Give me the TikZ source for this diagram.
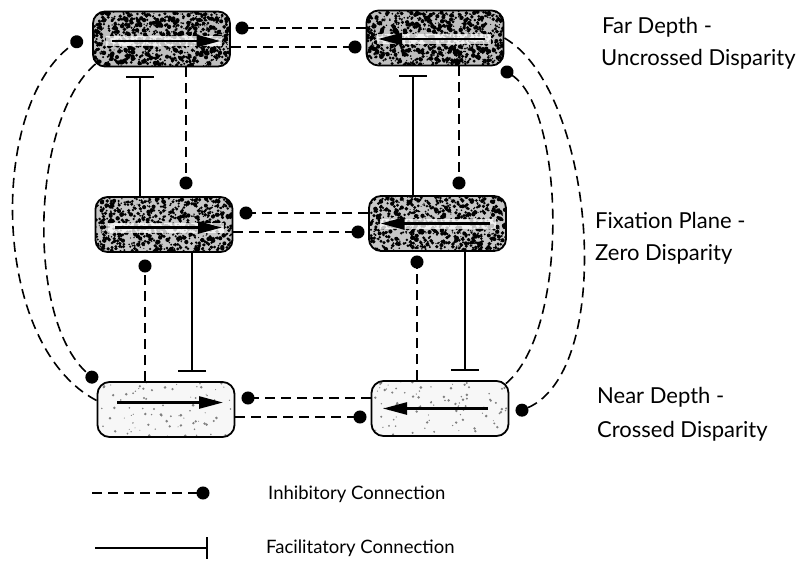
\documentclass[tikz,border=0pt]{standalone}
\usepackage{fontspec}
\setmainfont{Lato}
\usetikzlibrary{arrows.meta,calc}

\begin{document}
\begin{tikzpicture}[x=1pt,y=-1pt,
  cell/.style={draw,line width=1.8pt,rounded corners=12pt,
    minimum width=137pt,minimum height=55pt,inner sep=0pt},
  grain/.style n args={4}{fill=#1,path picture={
    \foreach \k in {1,...,#2}{
      \pgfmathsetmacro\px{rand*68}
      \pgfmathsetmacro\py{rand*27}
      \pgfmathsetmacro\pr{0.5+#4*rnd}
      \fill[#3] ($(path picture bounding box.center)+(\px,\py)$) circle[radius=\pr pt];
    }}},
  band/.style={fill=white,opacity=0.75},
  dir/.style={line width=2.6pt,-{Triangle[length=24pt,width=12pt]}},
  inh/.style={dash pattern=on 10pt off 6pt,line width=1.6pt,-{Circle[length=13pt]}},
  fac/.style={line width=1.4pt,-{Bar[width=28pt,line width=2.2pt]}},
  lvl/.style={anchor=base west,font=\fontsize{22}{26}\selectfont,inner sep=0pt},
  key/.style={anchor=west,font=\fontsize{18.5}{22}\selectfont,inner sep=0pt}
]
\useasboundingbox (0,0) rectangle (803,562);
\pgfmathsetseed{11}

% disparity-tuned cells: far (top), fixation (middle), near (bottom)
\node[cell,grain={black!25}{900}{black}{1.8}] (TL) at (161.5,39) {};
\node[cell,grain={black!25}{900}{black}{1.8}] (TR) at (435,38) {};
\node[cell,grain={black!22}{800}{black}{1.7}] (ML) at (164,224.5) {};
\node[cell,grain={black!22}{800}{black}{1.7}] (MR) at (437.5,223.5) {};
\node[cell,grain={black!3}{90}{black!50}{1.0}] (BL) at (166,409.5) {};
\node[cell,grain={black!3}{90}{black!50}{1.0}] (BR) at (440,408.5) {};

% lighter strips behind the direction arrows
\fill[band] ($(TL.center)+(-56,-3)$) rectangle ($(TL.center)+(60,7)$);
\fill[band] ($(TR.center)+(-58,-4)$) rectangle ($(TR.center)+(56,6)$);
\fill[band] ($(ML.center)+(-56,-2)$) rectangle ($(ML.center)+(60,8)$);
\fill[band] ($(MR.center)+(-58,-5)$) rectangle ($(MR.center)+(58,5)$);

% direction of motion within each cell
\draw[dir] ($(TL.center)+(-50,2)$) -- ($(TL.center)+(59,2)$);
\draw[dir] ($(TR.center)+(50,1)$) -- ($(TR.center)+(-57,1)$);
\draw[dir] ($(ML.center)+(-49,3)$) -- ($(ML.center)+(58,3)$);
\draw[dir] ($(MR.center)+(52,0)$) -- ($(MR.center)+(-57,0)$);
\draw[dir] ($(BL.center)+(-49,-7)$) -- ($(BL.center)+(57,-7)$);
\draw[dir] ($(BR.center)+(48,0)$) -- ($(BR.center)+(-57,0)$);

% end points of the inhibitory links
\coordinate (hT1) at (235.5,28);
\coordinate (hT2) at (361.5,47);
\coordinate (hM1) at (239.5,213);
\coordinate (hM2) at (364.5,232);
\coordinate (hB1) at (241.5,398);
\coordinate (hB2) at (366.5,417);
\coordinate (vTL) at (186,189.5);
\coordinate (vTR) at (459,189.5);
\coordinate (vBL) at (145,259.5);
\coordinate (vBR) at (417,255.5);
% end points of the facilitatory links
\coordinate (fTL) at (140,76);
\coordinate (fTR) at (413,75);
\coordinate (fBL) at (192,372);
\coordinate (fBR) at (465,371);

% opponent-direction inhibition within each depth plane
\draw[inh] (TR.west |- hT1) -- (hT1);
\draw[inh] (TL.east |- hT2) -- (hT2);
\draw[inh] (MR.west |- hM1) -- (hM1);
\draw[inh] (ML.east |- hM2) -- (hM2);
\draw[inh] (BR.west |- hB1) -- (hB1);
\draw[inh] (BL.east |- hB2) -- (hB2);

% links between neighbouring depth planes
\draw[inh] (TL.south -| vTL) -- (vTL);
\draw[inh] (TR.south -| vTR) -- (vTR);
\draw[inh] (BL.north -| vBL) -- (vBL);
\draw[inh] (BR.north -| vBR) -- (vBR);
\draw[fac] (ML.north -| fTL) -- (fTL);
\draw[fac] (MR.north -| fTR) -- (fTR);
\draw[fac] (ML.south -| fBL) -- (fBL);
\draw[fac] (MR.south -| fBR) -- (fBR);

% far <-> near inhibition
\coordinate (cTL) at (82,38);
\coordinate (cBL) at (96.8,381.4);
\coordinate (cBR) at (516,412.7);
\coordinate (cTR) at (501.6,68.4);
\draw[inh] ($(BL.west)+(0,-9)$) .. controls (-10,345) and (-12,105) .. (cTL);
\draw[inh] ($(TL.south west)+(3.5,-3.5)$) .. controls (30,120) and (26,320) .. (cBL);
\draw[inh] (TR.east) .. controls (595,90) and (617,370) .. (cBR);
\draw[inh] ($(BR.north east)+(-3.5,3.5)$) .. controls (570,330) and (565,110) .. (cTR);

% depth plane labels
\node[lvl] (far1) at (602,33) {Far Depth -};
\node[lvl] (far2) at (601,65) {Uncrossed Disparity};
\node[lvl] (fix1) at (595,228) {Fixation Plane -};
\node[lvl] (fix2) at (595,260) {Zero Disparity};
\node[lvl] (near1) at (597,403) {Near Depth -};
\node[lvl] (near2) at (597,437) {Crossed Disparity};

% legend
\coordinate (kA) at (92,493);
\coordinate (kB) at (209.5,493);
\coordinate (kC) at (95,548);
\coordinate (kD) at (208,548);
\draw[inh] (kA) -- (kB);
\draw[line width=1.4pt,-{Bar[width=22pt,line width=2.2pt]}] (kC) -- (kD);
\node[key] (kinh) at (268,494) {Inhibitory Connection};
\node[key] (kfac) at (266,548) {Facilitatory Connection};
\end{tikzpicture}
\end{document}
